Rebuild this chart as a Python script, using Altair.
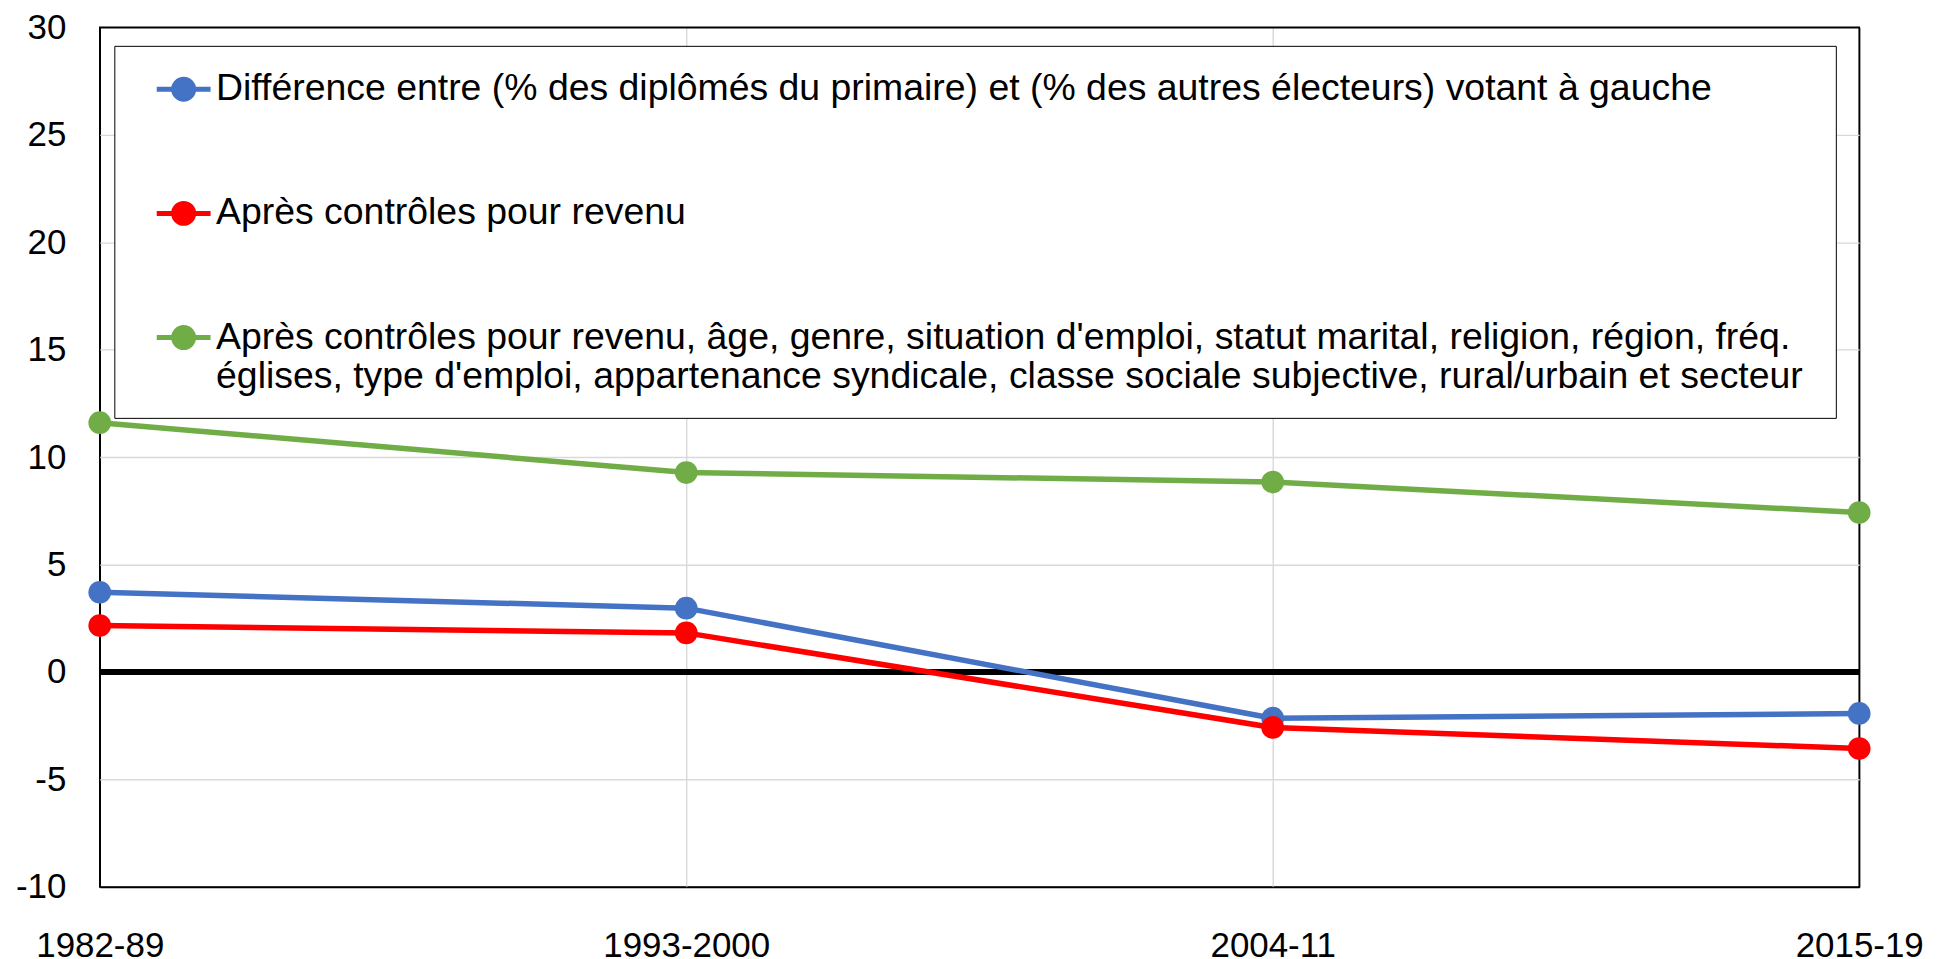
import altair as alt
import pandas as pd

periods = ["1982-89", "1993-2000", "2004-11", "2015-19"]
series_names = [
    "Différence entre (% des diplômés du primaire) et (% des autres électeurs) votant à gauche",
    "Après contrôles pour revenu",
    "Après contrôles pour revenu, âge, genre, situation d'emploi, statut marital, religion, région, fréq.|églises, type d'emploi, appartenance syndicale, classe sociale subjective, rural/urbain et secteur",
]
series_colors = ["#4472C4", "#FF0000", "#70AD47"]
blue_values = [3.71, 2.97, -2.15, -1.93]
red_values = [2.16, 1.82, -2.58, -3.56]
green_values = [11.6, 9.28, 8.84, 7.42]
y_ticks = [-10, -5, 0, 5, 10, 15, 20, 25, 30]

rows = []
for name, vals in zip(series_names, [blue_values, red_values, green_values]):
    for p, v in zip(periods, vals):
        rows.append({"period": p, "value": v, "series": name})
df = pd.DataFrame(rows)

FONT = "Liberation Sans"

# legend symbol: line with a filled disc (concentric rings) in the middle;
# the extra move-to points only widen the legend box to the reference size
def ring(a):
    return f"M{-a},0A{a},{a} 0 1,1 {a},0A{a},{a} 0 1,1 {-a},0Z"

sym_path = "M60.45,0M0,2.09M-1,0H1" + ring(0.0926) + ring(0.2407) + ring(0.3704)

legend = alt.Legend(
    title=None,
    orient="none",
    legendX=14.6,
    legendY=18.7,
    direction="vertical",
    fillColor="white",
    strokeColor="#000000",
    padding=14,
    rowPadding=28.5,
    symbolType=sym_path,
    symbolSize=2916,
    symbolStrokeWidth=5,
    symbolOffset=26,
    labelOffset=3,
    labelFont=FONT,
    labelFontSize=37.5,
    labelColor="black",
    labelLimit=3000,
    labelBaseline="middle",
    labelExpr="split(datum.label, '|')",
)

border_x = "datum.value == '1982-89' || datum.value == '2015-19'"
border_y = "datum.value == 30 || datum.value == -10"

x_enc = alt.X(
    "period:N",
    sort=periods,
    scale=alt.Scale(type="point", padding=0),
    axis=alt.Axis(title=None, labelAngle=0, ticks=False, domain=False,
                  labelPadding=42, labelFontSize=35, labelFont=FONT,
                  labelColor="black", grid=True,
                  gridColor=alt.condition(border_x, alt.value("black"), alt.value("#d9d9d9")),
                  gridWidth=1.4),
)
y_enc = alt.Y(
    "value:Q",
    scale=alt.Scale(domain=[-10, 30], nice=False, zero=False),
    axis=alt.Axis(title=None, values=y_ticks, ticks=False, domain=False,
                  labelPadding=34, labelFontSize=35, labelFont=FONT,
                  labelColor="black", labelExpr="'' + datum.value", grid=True,
                  gridColor=alt.condition(border_y, alt.value("black"), alt.value("#d9d9d9")),
                  gridWidth=1.4),
)

zero_rule = alt.Chart(df).mark_rule(color="black", strokeWidth=5.5).encode(
    y=alt.datum(0)
)

lines = alt.Chart(df).mark_line(
    strokeWidth=5.5,
    point=alt.OverlayMarkDef(filled=True, size=520, opacity=1),
).encode(
    x=x_enc,
    y=y_enc,
    color=alt.Color("series:N",
                    scale=alt.Scale(domain=series_names, range=series_colors),
                    legend=legend),
)

chart = alt.layer(zero_rule, lines).properties(
    width=1764,
    height=862,
    padding={"left": 92, "top": 18, "right": 70, "bottom": 72},
    autosize=alt.AutoSizeParams(type="none"),
).configure_view(
    stroke="black", strokeWidth=1.5
)

chart.save("out.html", embed_options={"renderer": "svg", "actions": False})
